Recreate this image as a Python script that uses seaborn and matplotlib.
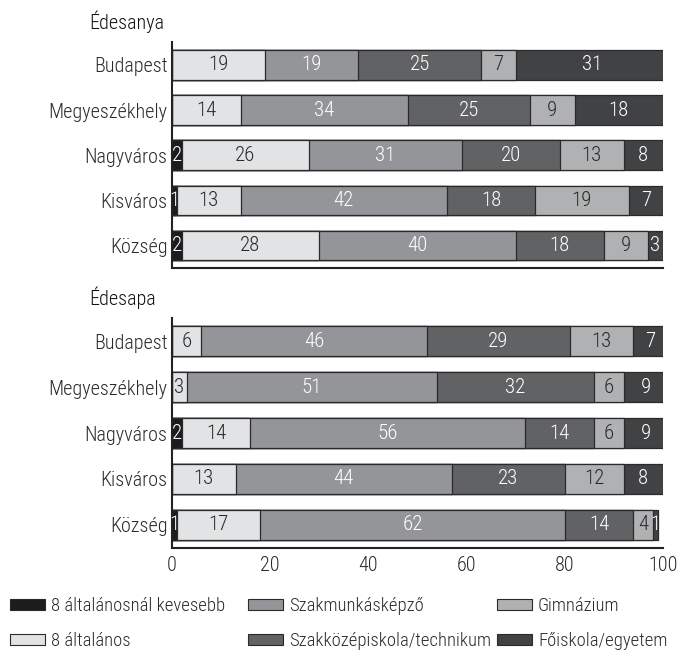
import numpy as np
import pandas as pd
import matplotlib
matplotlib.use("Agg")
import matplotlib.pyplot as plt
from matplotlib import font_manager as fm
from matplotlib.patches import Patch
import seaborn as sns

sns.set_theme(style="white")

# narrow face looks closest to the condensed type of the original
installed = {f.name for f in fm.fontManager.ttflist}
narrow = 'Liberation Sans'
for cand in ['Roboto Condensed', 'Liberation Sans Narrow', 'Open Sans Condensed']:
    if cand in installed:
        narrow = cand
        break
plt.rcParams['font.family'] = [narrow, 'DejaVu Sans']
if any(f.name == narrow and f.weight in (300, 'light') for f in fm.fontManager.ttflist):
    plt.rcParams['font.weight'] = 'light'

places = ['Budapest', 'Megyeszékhely', 'Nagyváros', 'Kisváros', 'Község']
levels = ['8 általánosnál kevesebb', '8 általános', 'Szakmunkásképző',
          'Szakközépiskola/technikum', 'Gimnázium', 'Főiskola/egyetem']
colors = ['#1c1c1e', '#e2e3e5', '#939598', '#616264', '#b0b1b3', '#414244']
text_colors = ['white', '#2a2a2a', 'white', 'white', '#2a2a2a', 'white']

# rows = places, columns = levels
mother = [
    [0, 19, 19, 25, 7, 31],
    [0, 14, 34, 25, 9, 18],
    [2, 26, 31, 20, 13, 8],
    [1, 13, 42, 18, 19, 7],
    [2, 28, 40, 18, 9, 3],
]
father = [
    [0, 6, 46, 29, 13, 7],
    [0, 3, 51, 32, 6, 9],
    [2, 14, 56, 14, 6, 9],
    [0, 13, 44, 23, 12, 8],
    [1, 17, 62, 14, 4, 1],
]

FS = 14.5
fig = plt.figure(figsize=(6.82, 6.51), dpi=100)
ax_top = fig.add_axes([0.252, 0.588, 0.72, 0.3475])
ax_bot = fig.add_axes([0.252, 0.158, 0.72, 0.3535])


def stacked(ax, data, show_labels):
    df = pd.DataFrame(data, index=places, columns=levels)
    cum = df.cumsum(axis=1)
    # draw cumulative totals from the widest down so each segment shows
    for i in range(len(levels) - 1, -1, -1):
        d = pd.DataFrame({'place': places, 'val': cum.iloc[:, i].values})
        sns.barplot(data=d, y='place', x='val', orient='h', color=colors[i],
                    saturation=1, width=0.65, edgecolor='#2a2a2a',
                    linewidth=0.9, ax=ax)
    for r, p in enumerate(places):
        left = 0
        for i, lv in enumerate(levels):
            v = df.loc[p, lv]
            if v > 0:
                ax.text(left + v / 2, r, str(v), ha='center', va='center',
                        fontsize=FS + 0.5, color=text_colors[i])
            left += v
    ax.set_xlim(0, 100)
    ax.set_ylim(4.51, -0.51)
    ax.set_xlabel('')
    ax.set_ylabel('')
    ax.set_xticks([0, 20, 40, 60, 80, 100])
    ax.tick_params(axis='x', direction='in', length=5, width=1.5,
                   colors='#222222', labelsize=FS, pad=6,
                   labelcolor='#2a2a2a')
    ax.tick_params(axis='y', length=0, labelsize=FS, pad=3,
                   labelcolor='#2a2a2a')
    if not show_labels:
        ax.set_xticklabels([])
    for s in ['top', 'right']:
        ax.spines[s].set_visible(False)
    for s in ['left', 'bottom']:
        ax.spines[s].set_color('#222222')
        ax.spines[s].set_linewidth(1.5)
    return ax


stacked(ax_top, mother, False)
stacked(ax_bot, father, True)

fig.text(89 / 682, 1 - 22 / 651, 'Édesanya', ha='left', va='center',
         fontsize=FS, color='#111111')
fig.text(89 / 682, 1 - 298 / 651, 'Édesapa', ha='left', va='center',
         fontsize=FS, color='#111111')

# legend: three columns at fixed positions, as in the reference
col_x = [10 / 682, 248 / 682, 497 / 682]
for k in range(3):
    idx = [2 * k, 2 * k + 1]
    handles = [Patch(facecolor=colors[i], edgecolor='#2a2a2a', linewidth=0.8)
               for i in idx]
    fig.legend(handles, [levels[i] for i in idx], loc='upper left',
               bbox_to_anchor=(col_x[k], 1 - 597 / 651), frameon=False,
               fontsize=13.4, handlelength=1.9, handleheight=0.55,
               handletextpad=0.3, labelspacing=0.9, borderpad=0,
               borderaxespad=0, labelcolor='#2a2a2a')

fig.savefig('out.png', dpi=100)
